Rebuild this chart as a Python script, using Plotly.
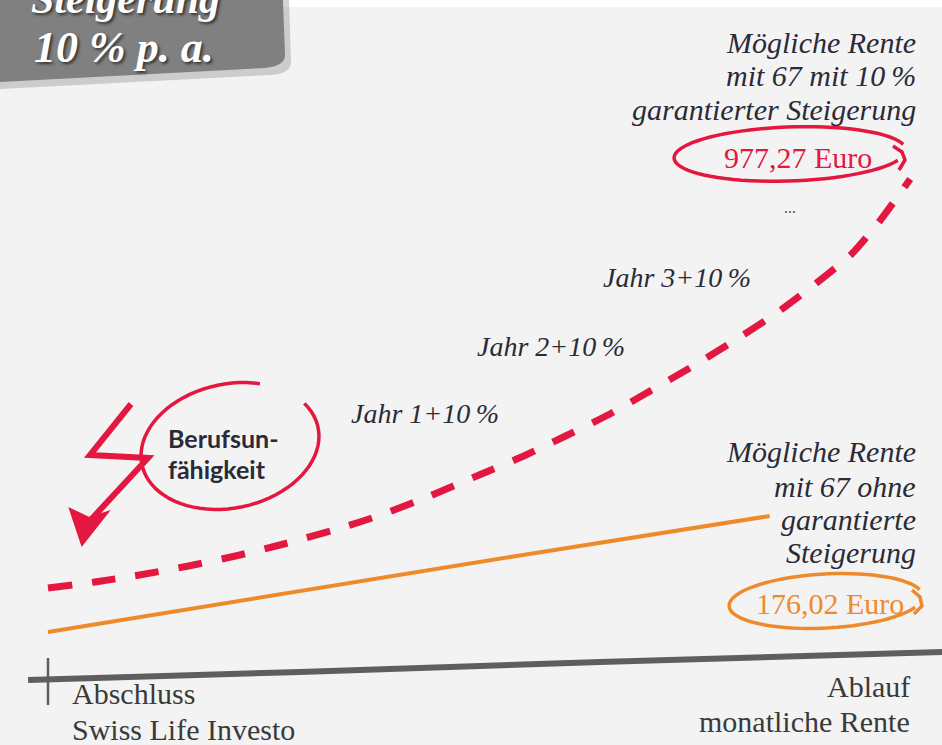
import math
import plotly.graph_objects as go

W, H = 942, 745

# ---- data: years since contract start vs. relative pension level ----
years_guaranteed = [0, 2.0, 3.9, 6.0, 8.0, 9.9, 12.5, 14.2, 16.2, 18.4, 20.4,
                    22.0, 23.9, 25.4, 27.4, 29.2, 31.1, 32.8, 34.3, 35.5, 36.8]
level_guaranteed = [77, 83, 90, 99, 109, 120, 137, 150, 168, 190, 210,
                    228, 250, 270, 297, 323, 352, 382, 411, 444, 486]
years_plain = [0, 10, 20, 30.8]
level_plain = [33, 71, 109, 149]
axis_years = [-0.85, 10.75, 23.56, 38.16]
axis_level = [-15, -7, 3, 13]
tick_years = [0, 0]
tick_level = [7, -40]

RED = "#e3173f"
ORANGE = "#ef8a2b"
DARK = "#2b2b38"
GREY = "#5e5e5e"
SERIF = "Liberation Serif"


def P(x, y):
    return x / W, 1 - y / H


def path_from(points, close=False):
    parts = []
    for i, (x, y) in enumerate(points):
        px, py = P(x, y)
        parts.append(("M" if i == 0 else "L") + f"{px:.5f},{py:.5f}")
    s = " ".join(parts)
    return s + (" Z" if close else "")


def ellipse_pts(cx, cy, rx, ry, a0, a1, rot=0, n=70):
    pts = []
    r = math.radians(rot)
    for i in range(n + 1):
        a = math.radians(a0 + (a1 - a0) * i / n)
        ex, ey = rx * math.cos(a), ry * math.sin(a)
        pts.append((cx + ex * math.cos(r) - ey * math.sin(r),
                    cy + ex * math.sin(r) + ey * math.cos(r)))
    return pts


fig = go.Figure()

# base axis line + start tick
fig.add_trace(go.Scatter(x=axis_years, y=axis_level, mode="lines",
                         line=dict(color=GREY, width=6, shape="spline"),
                         hoverinfo="skip"))
fig.add_trace(go.Scatter(x=tick_years, y=tick_level, mode="lines",
                         line=dict(color=GREY, width=2.5), hoverinfo="skip"))
# plain pension line
fig.add_trace(go.Scatter(x=years_plain, y=level_plain, mode="lines",
                         line=dict(color=ORANGE, width=4), hoverinfo="skip"))
# guaranteed 10% increase
fig.add_trace(go.Scatter(x=years_guaranteed, y=level_guaranteed, mode="lines",
                         line=dict(color=RED, width=7, dash="24px,20px",
                                   shape="spline", smoothing=0.6),
                         hoverinfo="skip"))

shapes = []
# white strip at top
shapes.append(dict(type="rect", xref="paper", yref="paper", x0=0, x1=1,
                   y0=1 - 7 / H, y1=1, fillcolor="#ffffff", line_width=0,
                   layer="below"))
# top-left grey tag with shadow
box_shadow = "M{:.5f},{:.5f} L{:.5f},{:.5f} L{:.5f},{:.5f} Q{:.5f},{:.5f} {:.5f},{:.5f} L{:.5f},{:.5f} Z".format(
    *P(0, 0), *P(289, 0), *P(291, 62), *P(291, 74), *P(270, 75), *P(0, 89))
shapes.append(dict(type="path", xref="paper", yref="paper", path=box_shadow,
                   fillcolor="rgba(0,0,0,0.16)", line_width=0))
box = "M{:.5f},{:.5f} L{:.5f},{:.5f} L{:.5f},{:.5f} Q{:.5f},{:.5f} {:.5f},{:.5f} L{:.5f},{:.5f} Z".format(
    *P(0, 0), *P(283, 0), *P(285, 54), *P(286, 66), *P(265, 68), *P(0, 82))
shapes.append(dict(type="path", xref="paper", yref="paper", path=box,
                   fillcolor="#808080", line_width=0))

# red ellipse around 977,27 Euro
shapes.append(dict(type="path", xref="paper", yref="paper",
                   path=path_from(ellipse_pts(790, 154, 116, 27, -12, -338, rot=-2)),
                   line=dict(color=RED, width=3.5)))
shapes.append(dict(type="path", xref="paper", yref="paper",
                   path=path_from([(893, 146), (902, 152), (905, 160), (899, 170)]),
                   line=dict(color=RED, width=3.5)))
# orange ellipse around 176,02 Euro
shapes.append(dict(type="path", xref="paper", yref="paper",
                   path=path_from(ellipse_pts(826, 601, 97, 27, -14, -336, rot=-3)),
                   line=dict(color=ORANGE, width=3.5)))
shapes.append(dict(type="path", xref="paper", yref="paper",
                   path=path_from([(912, 590), (920, 597), (922, 606), (914, 614)]),
                   line=dict(color=ORANGE, width=3.5)))
# red ellipse around Berufsunfaehigkeit
shapes.append(dict(type="path", xref="paper", yref="paper",
                   path=path_from(ellipse_pts(230, 446, 90, 62, -62, -385, rot=-12)),
                   line=dict(color=RED, width=3.5)))
# lightning arrow
shapes.append(dict(type="path", xref="paper", yref="paper",
                   path=path_from([(131, 404), (90, 455), (148, 458), (86, 525)]),
                   line=dict(color=RED, width=6)))
shapes.append(dict(type="path", xref="paper", yref="paper",
                   path=path_from([(70, 509), (89, 518), (108, 512), (82, 545)], close=True),
                   fillcolor=RED, line=dict(color=RED, width=2)))

annotations = []


def txt(x, y, text, size, color=DARK, anchor="left", family=SERIF,
        italic=False, bold=False, yanchor="middle", shadow=None):
    px, py = P(x, y)
    f = dict(family=family, size=size, color=color,
             style="italic" if italic else "normal",
             weight="bold" if bold else "normal")
    if shadow:
        f["shadow"] = shadow
    annotations.append(dict(x=px, y=py, xref="paper", yref="paper", text=text,
                            showarrow=False, xanchor=anchor, yanchor=yanchor,
                            font=f))


TS = "\u2009"
# tag text
txt(125, 24, "Steigerung", 42, "#ffffff", "center", italic=True, bold=True,
    yanchor="bottom", shadow="2px 2px 3px rgba(0,0,0,0.6)")
txt(124, 48, "10 % p. a.", 44, "#ffffff", "center", italic=True, bold=True,
    shadow="2px 2px 3px rgba(0,0,0,0.6)")

# top-right text block
txt(918, 43, "Mögliche Rente", 30, italic=True, anchor="right")
txt(918, 76, f"mit 67 mit 10{TS}%", 30, italic=True, anchor="right")
txt(918, 109, "garantierter Steigerung", 30, italic=True, anchor="right")
txt(798, 157, "977,27 Euro", 30, RED, "center")
txt(790, 208, "...", 16, "#555555", "center")

# year labels
txt(349, 413, f"Jahr 1+10{TS}%", 28, italic=True)
txt(475, 346, f"Jahr 2+10{TS}%", 28, italic=True)
txt(601, 277, f"Jahr 3+10{TS}%", 28, italic=True)

# Berufsunfaehigkeit
txt(166, 438, "Berufsun-", 25, DARK, family="Lato", bold=True)
txt(166, 469, "fähigkeit", 25, DARK, family="Lato", bold=True)

# orange block
txt(918, 451, "Mögliche Rente", 30, italic=True, anchor="right")
txt(918, 486, "mit 67 ohne", 30, italic=True, anchor="right")
txt(918, 519, "garantierte", 30, italic=True, anchor="right")
txt(918, 552, "Steigerung", 30, italic=True, anchor="right")
txt(830, 603, "176,02 Euro", 30, ORANGE, "center")

# bottom labels
txt(70, 693, "Abschluss", 30, "#3a3a3a")
txt(70, 729, "Swiss Life Investo", 30, "#3a3a3a")
txt(912, 686, "Ablauf", 30, "#3a3a3a", "right")
txt(912, 721, "monatliche Rente", 30, "#3a3a3a", "right")

x0 = -48 / 23.43
x1 = (W - 48) / 23.43
fig.update_layout(
    width=W, height=H, margin=dict(l=0, r=0, t=0, b=0, pad=0),
    paper_bgcolor="#f3f3f3", plot_bgcolor="#f3f3f3", showlegend=False,
    xaxis=dict(range=[x0, x1], visible=False, fixedrange=True),
    yaxis=dict(range=[-80, 665], visible=False, fixedrange=True),
    shapes=shapes, annotations=annotations,
)

fig.write_html("out.html", include_plotlyjs=True,
               config={"displayModeBar": False},
               post_script="document.body.style.margin='0';document.body.style.overflow='hidden';")
